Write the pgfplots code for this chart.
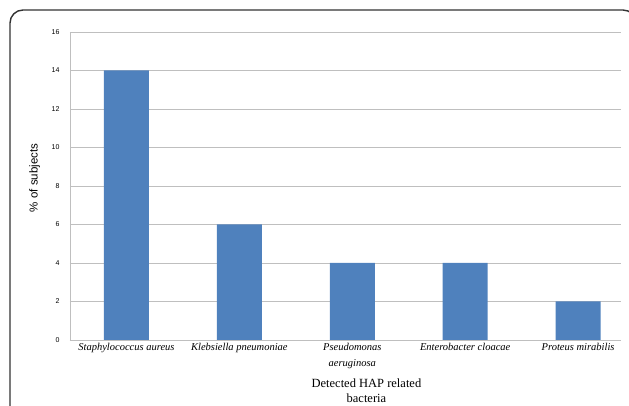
\documentclass[border=0pt]{standalone}
\usepackage{pgfplots}
\pgfplotsset{compat=1.18}
\usepackage{fontspec}
\setmainfont{Liberation Serif}
\setsansfont{Liberation Sans}
\definecolor{barblue}{HTML}{4F81BD}
\definecolor{gridgray}{HTML}{BFBFBF}
\begin{document}
\begin{tikzpicture}
\begin{axis}[
    scale only axis,
    width=551pt, height=308pt,
    ybar, bar width=45pt,
    xmin=-0.5, xmax=4.38,
    ymin=0, ymax=16,
    xtick={0,1,2,3,4},
    xticklabels={{Staphylococcus aureus},{Klebsiella pneumoniae},{Pseudomonas\\aeruginosa},{Enterobacter cloacae},{Proteus mirabilis}},
    ytick={0,2,...,16},
    ymajorgrids=true,
    grid style={gridgray, line width=0.9pt},
    axis lines*=left,
    axis line style={gridgray, line width=0.9pt},
    major tick length=0pt,
    /pgf/number format/assume math mode=true,
    yticklabel style={font=\sffamily\fontsize{7}{8}\selectfont, xshift=-7pt},
    xticklabel style={font=\itshape\fontsize{10.5}{16}\selectfont, align=center},
    ylabel={\% of subjects},
    ylabel style={font=\sffamily\fontsize{11.5}{13}\selectfont, at={(axis description cs:-0.064,0.526)}, anchor=center},
    xlabel={Detected HAP related\\bacteria},
    xlabel style={font=\fontsize{12.5}{15}\selectfont, align=center, at={(axis description cs:0.538,-0.165)}, anchor=center},
]
\addplot[fill=barblue, draw=none] coordinates {(0,14) (1,6) (2,4) (3,4) (4,2)};
\coordinate (BL) at (rel axis cs:0,0);
\end{axis}
\pgfresetboundingbox
\begin{scope}[shift={(BL)}]
  \useasboundingbox (-70pt,-66pt) rectangle (559pt,340pt);
  \clip (-70pt,-66pt) rectangle (559pt,340pt);
  \draw[line width=1.4pt, black!80, rounded corners=13pt] (-60pt,-100pt) rectangle (566pt,330pt);
\end{scope}
\end{tikzpicture}
\end{document}
